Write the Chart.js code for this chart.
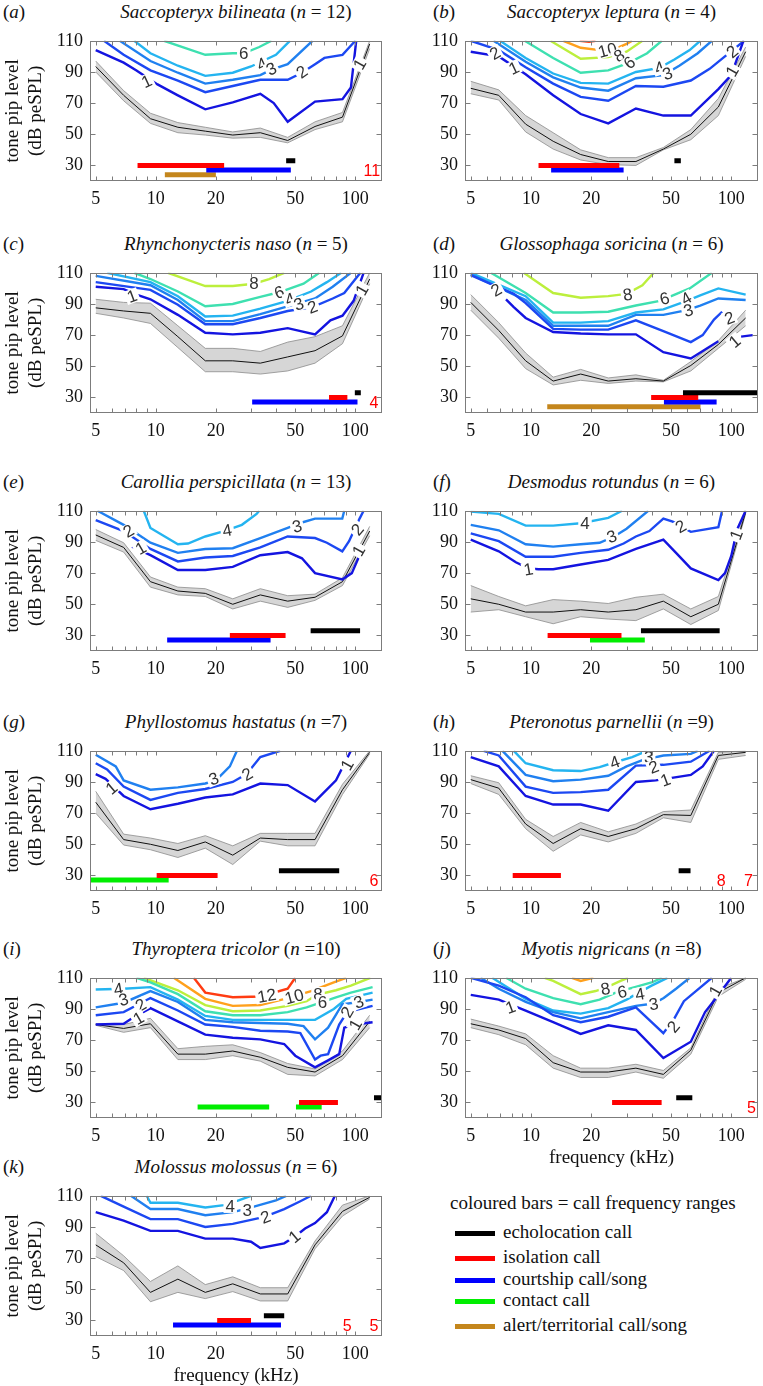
<!DOCTYPE html>
<html>
<head>
<meta charset="utf-8">
<script src="https://cdn.jsdelivr.net/npm/chart.js@4.4.1/dist/chart.umd.min.js"></script>
<style>
  body { margin: 0; background: #fff; }
  #page { position: relative; width: 763px; height: 1386px; overflow: hidden; font-family: "Liberation Serif", "Times New Roman", Tinos, "DejaVu Serif", serif; color: #111; }
  .ttl { position: absolute; font-size: 19px; line-height: 22px; white-space: nowrap; transform: translateX(-50%); }
  .let { position: absolute; font-size: 19px; line-height: 22px; }
  .lg { position: absolute; font-size: 19px; line-height: 22px; white-space: nowrap; }
  .sw { position: absolute; width: 40px; height: 5px; }
</style>
</head>
<body>
<div id="page"></div>
<script>
// frequencies of the tone pips (kHz)
const F = [5, 6.9, 9.4, 12.9, 17.7, 24.3, 33.4, 45.8, 62.8, 86.2, 118]
const xTicks = [5, 10, 20, 50, 100]
const xMinor = [5, 6, 7, 8, 9, 10, 20, 30, 40, 50, 60, 70, 80, 90, 100]
const yTicks = [30, 50, 70, 90, 110]

const letters = ['a', 'b', 'c', 'd', 'e', 'f', 'g', 'h', 'i', 'j', 'k']
const species = ['Saccopteryx bilineata', 'Saccopteryx leptura', 'Rhynchonycteris naso', 'Glossophaga soricina',
  'Carollia perspicillata', 'Desmodus rotundus', 'Phyllostomus hastatus', 'Pteronotus parnellii',
  'Thyroptera tricolor', 'Myotis nigricans', 'Molossus molossus']
const sampleN = [' = 12', ' = 4', ' = 5', ' = 6', ' = 13', ' = 6', ' =7', ' =9', ' =10', ' =8', ' = 6']

const callKeys = ['echo', 'iso', 'court', 'contact', 'alert']
const callNames = ['echolocation call', 'isolation call', 'courtship call/song', 'contact call', 'alert/territorial call/song']

// (a) Saccopteryx bilineata
const aThr = [93.5, 75, 60, 54.5, 52, 49.5, 51, 46, 55, 61, 108]
const aHi = [97, 78, 63.5, 57.5, 54.5, 51.5, 54, 48, 58, 64, 110]
const aLo = [90, 71.5, 57, 51, 49.5, 47.5, 48, 44.5, 53, 58, 105]
const aContours = [
  [1, [[5,104],[6.9,96],[8,91],[10.2,82],[12.9,75],[17.7,66],[24.3,70.5],[33.4,76],[39,70],[45.8,58],[62.8,71],[86.2,72.5],[95,80],[101,110]]],
  [2, [[5.5,110],[6.9,101],[9.4,91],[12.9,84.5],[17.7,77],[24.3,81],[33.4,85],[45.8,85],[54,89.5],[62.8,95],[70,99],[86.2,101],[100,110]]],
  [3, [[6.6,110],[9.4,97],[12.9,89.5],[17.7,82.5],[24.3,85],[33.4,88],[38,91.5],[45.8,95],[61,110]]],
  [4, [[7.8,110],[9.4,102],[12.9,94],[17.7,87.5],[24.3,89.5],[30,93.5],[40,101],[47,110]]],
  [6, [[11,110],[17.7,101],[24.3,102],[27.6,102],[33,106],[38,110]]]
]
const aCalls = [['echo', 45, 50], ['iso', 8.1, 22], ['court', 17.9, 47.5], ['alert', 11.1, 20]]
const aTags = [['1',9,84,-25],['4',34,95,-25],['3',38,92,-25],['2',54,90,-35],['6',27.6,102,0],['1',105,95,-60]]
const aCounts = [['11', 121, 26]]

// (b) Saccopteryx leptura
const bThr = [79.5, 75, 56.5, 45.5, 37, 32.5, 32.5, 40.5, 50, 67.5, 103]
const bHi = [84, 78.5, 62, 51, 40, 35, 35, 41.5, 53, 73, 106]
const bLo = [76, 72, 51.5, 40.5, 33.5, 30.5, 30, 40, 46.5, 62, 100]
const bContours = [
  [1, [[5,103],[6.9,100],[9.4,88.5],[12.9,75],[17.7,63],[24.3,57],[33.4,66.5],[45.8,62],[62.8,62],[86.2,79],[100,88],[115,110]]],
  [2, [[5,110],[6.9,104],[9.4,93],[12.9,82.5],[17.7,74],[24.3,71.5],[33.4,81],[45.8,80.5],[62.8,84.5],[78,92],[95,101],[116,110]]],
  [3, [[6.5,110],[9.4,96.5],[12.9,86.5],[17.7,80],[24.3,78],[33.4,86],[45.8,88],[55,94],[68,102],[80,110]]],
  [4, [[7,110],[9.4,99],[12.9,89],[17.7,83],[24.3,82.5],[33.4,90],[43.8,92.6],[52,98],[62,104],[70,110]]],
  [6, [[9.3,110],[12.9,99],[17.7,89.5],[24.3,91],[31,96],[38,102],[45,110]]],
  [8, [[12.5,110],[17.7,98.5],[24.3,99.5],[30,103],[36,110]]],
  [10, [[14.5,110],[17.7,105.5],[22,104],[26,104.5],[30,108],[32,110]]],
  [12, [[17.5,110],[19.5,109.3],[21,110]]]
]
const bCalls = [['echo', 52, 56], ['iso', 10.9, 27.6], ['court', 12.6, 29]]
const bTags = [['2',6.6,102,-30],['1',8.2,92.5,-25],['10',24.1,104,-15],['8',27.6,100.5,-30],['6',31,96,-40],['4',43.8,92.6,-20],['3',48,89,-20],['2',101,103,-40],['1',101,90.5,-60]]
const bCounts = []

// (c) Rhynchonycteris naso
const cThr = [87.5, 85.5, 84, 69, 53.5, 53.5, 52, 56, 60, 69.5, 106]
const cHi = [93, 91, 90.5, 76, 61.5, 61.5, 59.5, 65.5, 69, 76, 110]
const cLo = [84, 81, 77.5, 62, 46.5, 46.5, 45, 47, 52, 64.5, 103]
const cContours = [
  [1, [[5,101],[6.9,99.5],[8,96],[9.4,93],[12.9,83],[17.7,71.5],[24.3,70.5],[33.4,71.5],[45.8,74.5],[62.8,70.5],[75,79.5],[86.2,82.5],[98,92],[110,110]]],
  [2, [[5,104],[9.4,99],[12.9,89.5],[17.7,77],[24.3,77],[33.4,81],[45.8,85.5],[61,88],[77,93.5],[88,97],[106,110]]],
  [3, [[5,108],[9.4,102],[12.9,92.5],[17.7,79],[24.3,79],[33.4,83.5],[45.8,88.5],[62.8,93.5],[77,101],[95,110]]],
  [4, [[5.7,110],[9.4,104],[12.9,95],[17.7,82],[24.3,82.5],[33.4,87],[45.8,92],[60,98],[72,104],[85,110]]],
  [6, [[7.8,110],[9.4,106],[12.9,98],[17.7,88.5],[24.3,90],[33.4,94.5],[41.5,97.5],[55,103],[66,110]]],
  [8, [[11.5,110],[17.7,101.5],[24.3,101.5],[31,103],[37,106],[44,110]]]
]
const cCalls = [['echo', 99.4, 106.5], ['iso', 73.8, 91.2], ['court', 30.4, 102.5]]
const cTags = [['1',7.6,95,-20],['8',31,103,0],['6',41.5,97.5,-20],['4',47,93,-20],['3',52,90,-20],['2',61,88,-20],['1',108,99,-60]]
const cCounts = [['4', 124, 26]]

// (d) Glossophaga soricina
const dThr = [91, 73, 53.5, 40.5, 45, 40.5, 42, 40.5, 50.5, 64, 81]
const dHi = [96, 78, 58.5, 43, 48, 42.5, 44.5, 41, 53, 66.5, 86]
const dLo = [86, 68, 48.5, 38, 41, 39, 40.5, 40, 47, 61.5, 76]
const dContours = [
  [1, [[7.5,93],[8.2,88],[9.4,81],[12.9,72],[17.7,71],[24.3,70.5],[33.4,70.5],[45.8,59],[62.8,55],[86.2,66]]],
  [1, [[112,69],[128,70]]],
  [2, [[5,108.5],[6,104],[8.2,96.5],[9.4,90.5],[12.9,74],[17.7,73.5],[24.3,73.5],[33.4,79.5],[45.8,72.5],[62.8,65.5],[72,70],[82,80],[90,85]]],
  [3, [[5,109],[9.4,92.5],[12.9,76],[17.7,76],[24.3,76],[33.4,83],[45.8,83],[60,86],[70,89],[86.2,93.5],[118,92.5]]],
  [4, [[5,110],[9.4,95],[12.9,78],[17.7,78],[24.3,79],[33.4,84.5],[45.8,86.5],[60,92],[70,95.5],[86.2,100],[118,96]]],
  [6, [[6.3,110],[9.4,97],[12.9,84.5],[17.7,84.5],[24.3,85],[33.4,89],[44,92],[62,100],[80,110]]],
  [8, [[9.2,110],[12.9,97],[17.7,94],[24.3,95],[30,96.5],[36,102],[41,110]]]
]
const dCalls = [['echo', 57.4, 145], ['iso', 39.8, 68.4], ['court', 46.1, 84.5], ['alert', 12.05, 70.2]]
const dTags = [['2',6.7,99,-30],['8',30.4,96,-10],['6',46.4,93.5,-15],['4',59.6,93.5,-30],['3',61,86,-15],['2',98,81,-20],['1',104,66,-40]]
const dCounts = []

// (e) Carollia perspicillata
const eThr = [94.5, 86.5, 64.5, 58.5, 57, 50, 56, 52, 54.5, 64.5, 97]
const eHi = [98, 89.5, 67.5, 61, 60, 53.5, 60, 55.5, 56.5, 67, 100]
const eLo = [91, 83.5, 61, 56, 55, 47, 52, 48, 52.5, 62, 94]
const eContours = [
  [1, [[7.6,87],[9.4,81.5],[12.9,72],[17.7,72],[24.3,74],[33.4,81.5],[45.8,83.5],[54,79.5],[62.8,70],[86.2,66],[96,70],[108,85]]],
  [2, [[5,104],[6.9,97],[9.4,85.5],[12.9,77.5],[17.7,80],[24.3,81],[33.4,86.5],[45.8,93.5],[62.8,92.5],[72,89.5],[86,84],[93,90.5],[105,105],[110,110]]],
  [3, [[5.1,110],[6.9,101],[9.4,89.5],[12.9,83],[17.7,85.5],[24.3,86],[33.4,92.5],[45.8,99],[54,102.5],[62.8,105],[86,105],[88,110]]],
  [4, [[8.7,110],[9.4,99],[12.9,88.5],[14.5,89],[17.7,93.5],[22,97],[27,101],[32,108],[33,110]]]
]
const eCalls = [['echo', 59.7, 105.6], ['iso', 23.5, 44.7], ['court', 11.4, 37.6]]
const eTags = [['2',7.3,97,-30],['1',8.4,86,-30],['4',22.8,97.5,-10],['3',51,100,-15],['2',102.5,98,-50],['1',104,84.5,-60]]
const eCounts = []

// (f) Desmodus rotundus
const fThr = [53.5, 50, 45, 45, 46.5, 45, 46.5, 52, 42, 50, 109]
const fHi = [62, 55, 49, 53, 52, 50.5, 54.5, 56.5, 47, 55, 110]
const fLo = [45, 46.5, 42, 37.5, 42, 40.5, 39.5, 47, 37, 46, 108]
const fContours = [
  [1, [[5,91.5],[6.9,84],[8.4,77],[9.7,73],[10.9,72.5],[12.9,72.5],[17.7,75.5],[24.3,78.5],[33.4,85.5],[45.8,91.5],[53,83],[62.8,73],[86.2,65.5],[93,70],[100,81],[107,98],[118,110]]],
  [2, [[5,95.5],[6.9,90.5],[9.4,80.5],[12.9,80.5],[17.7,83],[24.3,85],[29,89],[33.4,93.5],[39,97],[45.8,105],[51,103],[62.8,96.5],[86.2,99.5],[90,110]]],
  [3, [[5,101],[6.9,97.5],[9.4,88.5],[12.9,87],[17.7,88.5],[22,89.5],[26,93.5],[30,98.5],[38.5,110]]],
  [4, [[5,109.5],[6.9,108],[9.4,100.5],[12.9,100.5],[17.7,102],[24.3,105.5],[28.5,110]]]
]
const fCalls = [['echo', 35.4, 87.5], ['iso', 12.1, 28.3], ['contact', 19.7, 37]]
const fTags = [['1',9.7,72.5,-10],['4',18.6,102,0],['3',25.3,93.5,-20],['2',56,100,-30],['1',106,94.5,-70]]
const fCounts = []

// (g) Phyllostomus hastatus
const gThr = [77, 53, 50, 46, 51.5, 43, 54, 53, 53, 85, 109]
const gHi = [84, 56.5, 54, 50.5, 55.5, 49, 57, 57, 57, 88.5, 110]
const gLo = [70, 49.5, 46.5, 41.5, 47.5, 37, 52, 49, 49, 82, 108]
const gContours = [
  [1, [[5,95],[5.6,92],[6.9,81],[9.4,72.5],[12.9,76],[17.7,80],[24.3,82],[33.4,89],[45.8,88],[62.8,77.5],[80,91],[95,110]]],
  [2, [[5,102],[5.7,98],[6.9,87],[9.4,78.5],[12.9,83],[17.7,85.5],[24.3,90],[28.5,95],[33.4,106],[42,110]]],
  [3, [[5,107.5],[6.3,100],[6.9,91],[9.4,85],[12.9,86.5],[17.7,89],[20,91],[23.5,100],[25.5,110]]]
]
const gCalls = [['echo', 41.4, 83], ['iso', 10.1, 20.4], ['contact', 4.7, 11.6]]
const gTags = [['1',6,86,-40],['3',19.5,92,-20],['2',28.7,95,-30],['1',91,101,-60]]
const gCounts = [['6', 124, 26]]

// (h) Pteronotus parnellii
const hThr = [91.5, 86, 63, 50.5, 60, 55, 60, 69, 68.5, 107, 109]
const hHi = [94, 89.5, 66, 55, 64, 58, 63, 71, 72, 109, 110]
const hLo = [89, 82, 60, 45.5, 56, 51.5, 57, 67, 64, 104.5, 107]
const hContours = [
  [1, [[5,106],[6.9,100],[9.4,81],[12.9,75.5],[17.7,75.5],[24.3,71.5],[33.4,90],[42,91],[62.8,94.5],[72,100],[82,110]]],
  [2, [[5.8,110],[6.9,107],[9.4,87],[12.9,83],[17.7,83.5],[24.3,85],[33.4,100.5],[45.8,101],[62.8,103],[78,110]]],
  [3, [[7.2,110],[9.4,94.5],[12.9,90.5],[17.7,91.5],[24.3,94],[30,100],[36,104],[45.8,107],[62.8,108],[68,110]]],
  [4, [[8.2,110],[9.4,102],[12.9,97.5],[17.7,97],[22,99.5],[26,102.5],[32,106],[38,110]]]
]
const hCalls = [['echo', 54.6, 62.6], ['iso', 8.1, 14.1]]
const hTags = [['4',26.2,102.7,-20],['3',38.7,105.8,0],['2',41,99.6,-20],['1',46.9,91.3,-20]]
const hCounts = [['8', 89, 26], ['7', 122, 26]]

// (i) Thyroptera tricolor
const iThr = [80, 77.5, 80.5, 61, 61, 63, 59, 52.5, 49.5, 60, 82]
const iHi = [80.5, 80, 84, 64.5, 66, 67, 62, 55, 51.5, 63, 86]
const iLo = [79.5, 75, 78, 57.5, 57.5, 60, 56.5, 48, 47, 57.5, 78]
const iContours = [
  [1, [[5,80],[6.9,80.5],[7.6,84],[9.4,90.5],[12.9,82],[17.7,73.5],[24.3,71.5],[33.4,70.5],[44,67.5],[50,60],[62.8,52.5],[73,57],[83,61],[88,78],[100,80],[122,81.5]]],
  [2, [[5,86],[6.9,88],[9.4,97],[12.9,89],[17.7,80],[24.3,78.5],[33.4,76],[45.8,75.5],[53,74.5],[62.8,57.5],[67,60],[73,61],[83,80],[91,88],[122,92]]],
  [3, [[5,91],[6.9,94],[9.4,101.5],[12.9,94.5],[17.7,83],[24.3,81.5],[33.4,81],[45.8,80.5],[55,79],[62.8,70.5],[73,78],[86,93],[104,94.5],[122,96]]],
  [4, [[5,102.5],[6.9,103],[9.4,104],[12.9,96],[17.7,85.5],[24.3,83],[33.4,83],[45.8,83],[62.8,83],[78,90],[90,96.5],[122,100.5]]],
  [6, [[8,110],[9.4,107],[12.9,99.5],[17.7,88.5],[24.3,86],[33.4,86],[45.8,88],[57,91],[67,94],[80,97.5],[95,100.5],[122,104]]],
  [8, [[8.7,110],[12.9,102],[17.7,92.5],[24.3,88.5],[33.4,89],[45.8,92],[57,95],[64,99],[80,102],[95,105],[119,110]]],
  [10, [[12.3,110],[17.7,96.5],[24.3,92],[33.4,92.5],[45.8,97],[60,101.5],[78,107],[90,110]]],
  [12, [[15.5,110],[17.7,100.5],[24.3,97.5],[33.4,98],[45.8,103],[50,110]]]
]
const iCalls = [['echo', 124, 140], ['iso', 52.2, 81.8], ['contact', 16.2, 37], ['contact', 50.4, 67.8]]
const iTags = [['4',6.5,102.7,-10],['3',6.9,96,-15],['2',8.4,92.5,-30],['1',8.2,84,-30],['12',36,98.5,-10],['10',49.4,98,-15],['8',65,99.6,0],['6',68.5,94.4,0],['2',91,88,-60],['3',104,94.5,-20],['1',100,80,-60]]
const iCounts = []

// (j) Myotis nigricans
const jThr = [80.5, 76.5, 71, 55.5, 49.5, 49.5, 52, 48, 63.5, 100.5, 110]
const jHi = [83.5, 79, 74, 60, 52, 52, 54.5, 50.5, 65, 103, 110]
const jLo = [78, 73.5, 67, 52, 46, 46, 49.5, 45.5, 61, 98, 109]
const jContours = [
  [1, [[5,99],[6.9,96],[9.4,89],[12.9,81.5],[17.7,74],[24.3,79.5],[33.4,76.5],[45.8,58.5],[62.8,69],[74,88],[84,97],[100,110]]],
  [2, [[5,110],[6.9,105],[9.4,97.5],[12.9,86],[17.7,81.5],[24.3,85],[33.4,91],[45.8,74.5],[52,84],[58,95],[80,110]]],
  [3, [[5.6,110],[6.9,103],[9.4,94.5],[12.9,88],[17.7,84],[24.3,88],[33.4,92],[41,93.5],[46,97],[53,103],[62,110]]],
  [4, [[6.4,110],[9.4,96.5],[12.9,89],[17.7,87],[24.3,90.5],[30,96],[34,100],[40,105],[48,110]]],
  [6, [[7.5,110],[9.4,103],[12.9,97],[17.7,93],[22,96],[27,101],[33,104],[40,107],[45,110]]],
  [8, [[11.7,110],[12.9,108],[17.7,99.5],[21,101.5],[24,104],[28,108],[30.5,110]]],
  [10, [[16,110],[17.7,108],[20.5,110]]]
]
const jCalls = [['echo', 53.1, 63.9], ['iso', 25.4, 44.9]]
const jTags = [['1',7.9,91,-20],['8',23.5,103,-10],['6',28.5,101,-10],['4',35,99.5,-10],['3',41,93.2,-10],['2',51.5,78.6,-50],['1',83.4,101.6,-60]]
const jCounts = [['5', 126, 26]]

// (k) Molossus molossus
const kThr = [78.5, 67, 48, 56.5, 48, 53.5, 47, 47, 78.5, 100, 109]
const kHi = [86, 71.5, 55, 65, 53, 58, 51, 51, 81, 104, 110]
const kLo = [71, 62, 42, 48, 44, 48.5, 42.5, 42.5, 76, 97, 108]
const kContours = [
  [1, [[5,99.5],[6.9,94],[9.4,87.5],[12.9,87.5],[17.7,82.5],[24.3,82.5],[30,80.5],[33.4,76.5],[44,79.5],[50,84],[56,89],[62.8,92.5],[72,99.5],[79,110]]],
  [2, [[5.3,110],[6.9,103],[9.4,95],[12.9,95],[17.7,90],[24.3,92],[30,94.5],[35,96.5],[44,101.5],[53,106.5],[60,110]]],
  [3, [[7.5,110],[9.4,101.5],[12.9,101.5],[17.7,97.5],[24.3,99.5],[28,101.5],[33,104],[40,107],[45,110]]],
  [4, [[9,110],[9.4,105.5],[12.9,105.5],[17.7,102.5],[22,104],[26,107],[30,110]]]
]
const kCalls = [['echo', 34.8, 44], ['iso', 20.3, 30], ['court', 12.2, 42.4]]
const kTags = [['4',23.6,103.5,0],['3',28.7,100.5,0],['2',35.5,96.3,-20],['1',49.6,83.8,-40]]
const kCounts = [['5', 91, 26], ['5', 124, 26]]

const panels = [
  [aThr, aHi, aLo, aContours, aCalls, aTags, aCounts],
  [bThr, bHi, bLo, bContours, bCalls, bTags, bCounts],
  [cThr, cHi, cLo, cContours, cCalls, cTags, cCounts],
  [dThr, dHi, dLo, dContours, dCalls, dTags, dCounts],
  [eThr, eHi, eLo, eContours, eCalls, eTags, eCounts],
  [fThr, fHi, fLo, fContours, fCalls, fTags, fCounts],
  [gThr, gHi, gLo, gContours, gCalls, gTags, gCounts],
  [hThr, hHi, hLo, hContours, hCalls, hTags, hCounts],
  [iThr, iHi, iLo, iContours, iCalls, iTags, iCounts],
  [jThr, jHi, jLo, jContours, jCalls, jTags, jCounts],
  [kThr, kHi, kLo, kContours, kCalls, kTags, kCounts]
]

// styles and layout
const levelColor = {1: '#1414e0', 2: '#1c48f2', 3: '#2080f0', 4: '#24b4f0', 6: '#3ee0b0', 8: '#bcef3c', 10: '#ffa01c', 12: '#ff3c12'}
const callColor = {echo: '#000000', iso: '#ff0000', court: '#0000ff', contact: '#00ee00', alert: '#c4861c'}
const callLevel = {echo: 33, iso: 30, court: 27, contact: 27, alert: 24}
const plotTops = [35, 35, 267, 267, 505, 505, 745, 745, 972, 972, 1190]
const plotH = 146
const serif = '"Liberation Serif", "Times New Roman", Tinos, "DejaVu Serif", serif'

const page = document.getElementById('page')

const frame = {
  id: 'frame',
  afterDraw(chart) {
    const { ctx, chartArea: a, scales: { x, y } } = chart
    const l = Math.round(a.left) + 0.5, r = Math.round(a.right) - 0.5
    const t = Math.round(a.top) + 0.5, b = Math.round(a.bottom) - 0.5
    ctx.save()
    ctx.strokeStyle = '#7c7c7c'
    ctx.lineWidth = 1
    ctx.strokeRect(l, t, r - l, b - t)
    ctx.beginPath()
    xMinor.forEach(v => {
      const px = Math.round(x.getPixelForValue(v)) + 0.5
      ctx.moveTo(px, b); ctx.lineTo(px, b - 4)
      ctx.moveTo(px, t); ctx.lineTo(px, t + 4)
    })
    yTicks.forEach(v => {
      const py = Math.round(y.getPixelForValue(v)) + 0.5
      ctx.moveTo(l, py); ctx.lineTo(l + 5, py)
      ctx.moveTo(r, py); ctx.lineTo(r - 5, py)
    })
    ctx.stroke()
    ctx.restore()
  }
}

function makeOverlay(tags, counts) {
  return {
    id: 'overlay',
    afterDatasetsDraw(chart) {
      const { ctx, scales: { x, y } } = chart
      ctx.save()
      ctx.textAlign = 'center'
      ctx.textBaseline = 'middle'
      ctx.font = '17px "Liberation Sans", Arial, sans-serif'
      tags.forEach(([t, fx, fy, ang]) => {
        ctx.save()
        ctx.translate(x.getPixelForValue(fx), y.getPixelForValue(fy))
        ctx.rotate(ang * Math.PI / 180)
        const w = ctx.measureText(t).width
        ctx.fillStyle = '#fff'
        ctx.fillRect(-w / 2 - 2, -7, w + 4, 14)
        ctx.fillStyle = '#333'
        ctx.fillText(t, 0, 1)
        ctx.restore()
      })
      ctx.font = '16px "Liberation Sans", Arial, sans-serif'
      ctx.fillStyle = '#ff0000'
      counts.forEach(([t, fx, fy]) => {
        ctx.fillText(t, x.getPixelForValue(fx), y.getPixelForValue(fy))
      })
      ctx.restore()
    }
  }
}

panels.forEach(([thr, hi, lo, contours, calls, tags, counts], i) => {
  const col = i % 2
  const left = col === 0 ? 0 : 390
  const cw = col === 0 ? 390 : 373
  const yw = col === 0 ? 90 : 75
  const padR = col === 0 ? 8 : 5
  const xTitle = i >= 9
  const xh = xTitle ? 56 : 36
  const padT = 12
  const ch = padT + plotH + xh
  const top = plotTops[i]
  const cx = col === 0 ? (90 + 382) / 2 : (465 + 758) / 2

  const let_ = document.createElement('div')
  let_.className = 'let'
  let_.style.left = (col === 0 ? 3 : 433) + 'px'
  let_.style.top = (top - 34) + 'px'
  let_.innerHTML = '(<i>' + letters[i] + '</i>)'
  page.appendChild(let_)

  const ttl = document.createElement('div')
  ttl.className = 'ttl'
  ttl.style.left = cx + 'px'
  ttl.style.top = (top - 34) + 'px'
  ttl.innerHTML = '<i>' + species[i] + '</i> (<i>n</i>' + sampleN[i] + ')'
  page.appendChild(ttl)

  const cv = document.createElement('canvas')
  cv.width = cw
  cv.height = ch
  cv.style.cssText = 'position:absolute;left:' + left + 'px;top:' + (top - padT) + 'px;width:' + cw + 'px;height:' + ch + 'px'
  page.appendChild(cv)

  const datasets = []
  datasets.push({ data: F.map((f, k) => ({ x: f, y: hi[k] })), borderColor: '#8c8c8c', borderWidth: 0.8, backgroundColor: '#d6d6d6', fill: '+1', order: 4 })
  datasets.push({ data: F.map((f, k) => ({ x: f, y: lo[k] })), borderColor: '#8c8c8c', borderWidth: 0.8, fill: false, order: 4 })
  datasets.push({ data: F.map((f, k) => ({ x: f, y: thr[k] })), borderColor: '#111', borderWidth: 1, fill: false, order: 3 })
  contours.forEach(([lev, pts]) => {
    datasets.push({ data: pts.map(q => ({ x: q[0], y: q[1] })), borderColor: levelColor[lev], borderWidth: 2.4, fill: false, order: 2 })
  })
  calls.forEach(([k, a, b]) => {
    datasets.push({ data: [{ x: a, y: callLevel[k] }, { x: b, y: callLevel[k] }], borderColor: callColor[k], borderWidth: 5, borderCapStyle: 'butt', fill: false, order: 1 })
  })

  new Chart(cv.getContext('2d'), {
    type: 'line',
    data: { datasets },
    options: {
      responsive: false,
      animation: false,
      events: [],
      layout: { padding: { top: padT, right: padR, left: 0, bottom: 0 } },
      elements: { point: { radius: 0 }, line: { tension: 0 } },
      plugins: {
        legend: { display: false },
        tooltip: { enabled: false },
        filler: { propagate: false, drawTime: 'beforeDatasetsDraw' }
      },
      scales: {
        x: {
          type: 'logarithmic',
          min: 4.68,
          max: 136,
          grid: { display: false, drawTicks: false },
          border: { display: false },
          afterBuildTicks: s => { s.ticks = xTicks.map(v => ({ value: v })) },
          afterFit: s => { s.height = xh },
          ticks: { autoSkip: false, maxRotation: 0, padding: 7, color: '#111', font: { family: serif, size: 18 }, callback: v => String(v) },
          title: { display: xTitle, text: 'frequency (kHz)', color: '#111', font: { family: serif, size: 19 }, padding: { top: 0, bottom: 5 } }
        },
        y: {
          type: 'linear',
          min: 20,
          max: 110,
          grid: { display: false, drawTicks: false },
          border: { display: false },
          afterBuildTicks: s => { s.ticks = yTicks.map(v => ({ value: v })) },
          afterFit: s => { s.width = yw },
          ticks: { padding: 7, color: '#111', font: { family: serif, size: 18 } },
          title: { display: col === 0, text: ['tone pip level', '(dB peSPL)'], color: '#111', font: { family: serif, size: 19 }, padding: { top: 2, bottom: 0 } }
        }
      }
    },
    plugins: [makeOverlay(tags, counts), frame]
  })
})

// legend for the call bars
const lgTitle = document.createElement('div')
lgTitle.className = 'lg'
lgTitle.style.left = '450px'
lgTitle.style.top = '1192px'
lgTitle.textContent = 'coloured bars = call frequency ranges'
page.appendChild(lgTitle)
const lgRows = [1232, 1257, 1279, 1300, 1325]
callKeys.forEach((k, n) => {
  const sw = document.createElement('div')
  sw.className = 'sw'
  sw.style.left = '455px'
  sw.style.top = (lgRows[n] - 1) + 'px'
  sw.style.background = callColor[k]
  page.appendChild(sw)
  const tx = document.createElement('div')
  tx.className = 'lg'
  tx.style.left = '503px'
  tx.style.top = (lgRows[n] - 11) + 'px'
  tx.textContent = callNames[n]
  page.appendChild(tx)
})
</script>
</body>
</html>
